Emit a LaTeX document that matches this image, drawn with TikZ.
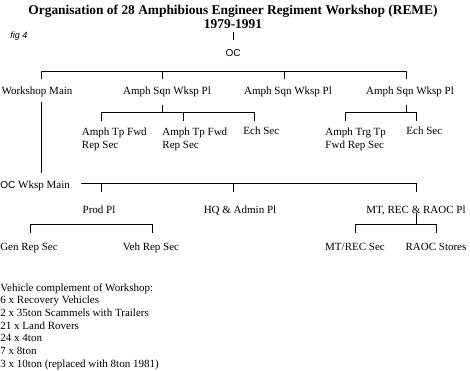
\documentclass[tikz,border=0pt]{standalone}
\usepackage{fontspec}
\setmainfont{Liberation Serif}
\newfontfamily\sansfont{Liberation Sans}
\begin{document}
\begin{tikzpicture}[x=1pt,y=-1pt,line width=0.9pt,
	lbl/.style={inner sep=0pt,font=\fontsize{11}{12.7}\selectfont},
	multi/.style={lbl,align=left,anchor=north west},
	head/.style={lbl,anchor=base,font=\fontsize{13.4}{14}\selectfont\bfseries}]
	\useasboundingbox (0,0) rectangle (470,371);
	% title
	\node[head] (title) at (233,15) {Organisation of 28 Amphibious Engineer Regiment Workshop (REME)};
	\node[head] (years) at (233,29) {1979-1991};
	\node[lbl,anchor=base west,font=\fontsize{9}{10}\selectfont\sansfont\itshape] (fig) at (10,39) {fig 4};
	\node[lbl,anchor=base,font=\fontsize{10}{12}\selectfont\sansfont] (oc) at (233,57) {OC};
	% first row
	\node[lbl,anchor=base] (wm) at (37,95) {Workshop Main};
	\node[lbl,anchor=base] (sqa) at (167,95) {Amph Sqn Wksp Pl};
	\node[lbl,anchor=base] (sqb) at (288,95) {Amph Sqn Wksp Pl};
	\node[lbl,anchor=base] (sqc) at (410,95) {Amph Sqn Wksp Pl};
	% sections of the squadrons
	\node[multi] (fwda) at (81.5,127.5) {Amph Tp Fwd\\Rep Sec};
	\node[multi] (fwdb) at (162,127.5) {Amph Tp Fwd\\Rep Sec};
	\node[lbl,anchor=base west] (echa) at (243,135) {Ech Sec};
	\node[multi] (trg) at (325,127.5) {Amph Trg Tp\\Fwd Rep Sec};
	\node[lbl,anchor=base west] (echb) at (406,135) {Ech Sec};
	% workshop main
	\node[lbl,anchor=base west] (ocw) at (0,188) {{\sansfont\fontsize{10}{12}\selectfont OC} Wksp Main};
	\node[lbl,anchor=base] (prod) at (99,213) {Prod Pl};
	\node[lbl,anchor=base] (hq) at (240,213) {HQ \& Admin Pl};
	\node[lbl,anchor=base] (mt) at (416,213) {MT, REC \& RAOC Pl};
	\node[lbl,anchor=base] (gen) at (29,250) {Gen Rep Sec};
	\node[lbl,anchor=base] (veh) at (151,250) {Veh Rep Sec};
	\node[lbl,anchor=base] (mtrec) at (355,250) {MT/REC Sec};
	\node[lbl,anchor=base] (raoc) at (436,250) {RAOC Stores};
	% vehicles
	\node[multi] (vehicles) at (0,283) {Vehicle complement of Workshop:\\
		6 x Recovery Vehicles\\
		2 x 35ton Scammels with Trailers\\
		21 x Land Rovers\\
		24 x 4ton\\
		7 x 8ton\\
		3 x 10ton (replaced with 8ton 1981)};
	\path (41,71) coordinate (r1a) (162,71) coordinate (r1b)
		(284,71) coordinate (r1c) (406,71) coordinate (r1d)
		(101,112.5) coordinate (r2a) (183,112.5) coordinate (r2b) (254,112.5) coordinate (r2c)
		(345,112.5) coordinate (r3a) (416,112.5) coordinate (r3b)
		(81,183.5) coordinate (r4s) (101,183.5) coordinate (r4a)
		(233,183.5) coordinate (r4b) (416,183.5) coordinate (r4c)
		(30,224) coordinate (r5a) (152,224) coordinate (r5b)
		(355,224) coordinate (r6a) (436,224) coordinate (r6b)
		;
	% bars
	\draw (r1a) -- (r1d) (r2a) -- (r2c) (r3a) -- (r3b)
		(r4s) -- (r4c) (r5a) -- (r5b) (r6a) -- (r6b);
	\foreach \c in {r1a,r1b,r1c,r1d,r2a,r2b,r2c,r3a,r3b,r4a,r4b,r4c,r5a,r5b,r6a,r6b}{
		\draw (\c) -- ++(0,8.5);
	}
	% stems
	\draw ([yshift=-2pt]years.south) -- ([yshift=10pt]oc.north);
	\draw ([yshift=-4pt]wm.south -| r1a) -- ([yshift=7pt]ocw.north -| r1a);
	\draw ([yshift=-7.5pt]sqa.south -| r1b) -- (r1b |- r2a);
	\draw ([yshift=-7.5pt]sqc.south -| r1d) -- (r1d |- r3a);
	\draw (mt.base -| r4c) -- (r4c |- r6a);
\end{tikzpicture}
\end{document}
